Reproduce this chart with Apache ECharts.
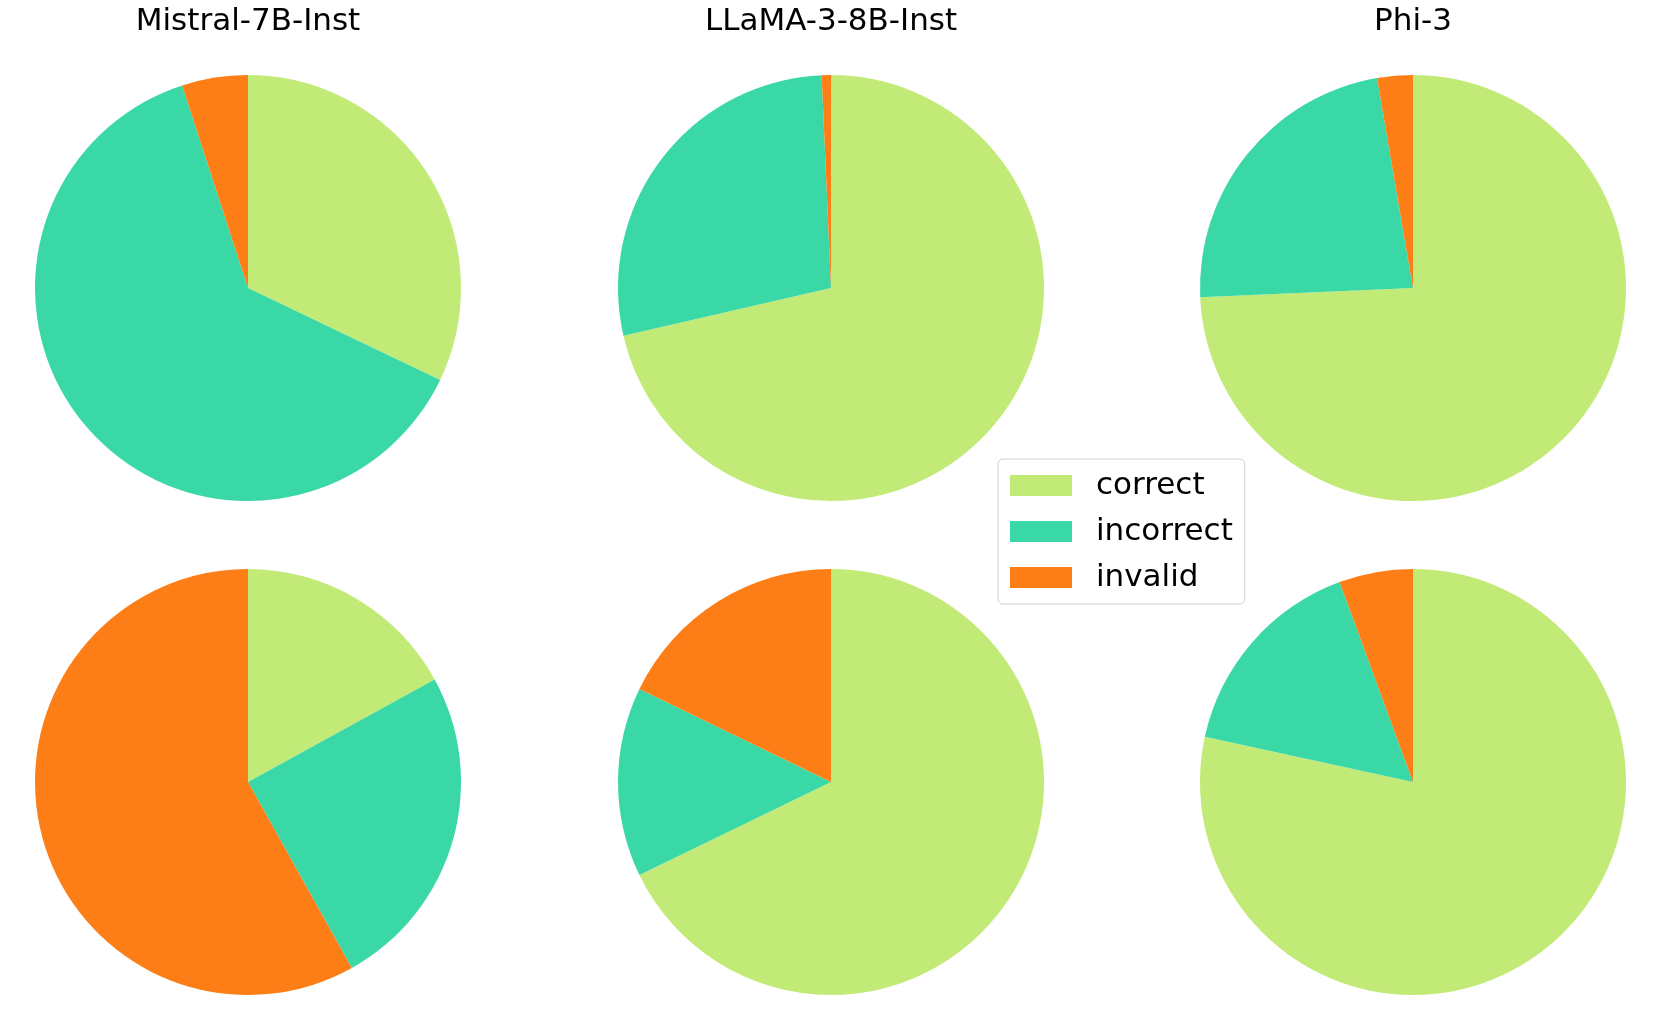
<!DOCTYPE html>
<html>
<head>
<meta charset="utf-8">
<script src="https://cdn.jsdelivr.net/npm/echarts@6/dist/echarts.min.js"></script>
<style>
html,body{margin:0;padding:0;background:#fff;}
#chart{width:1661px;height:1030px;}
</style>
</head>
<body>
<div id="chart"></div>
<script>
// ---- data ----
const models = ['Mistral-7B-Inst', 'LLaMA-3-8B-Inst', 'Phi-3'];
const categories = ['correct', 'incorrect', 'invalid'];
const mistralTop = [32.1, 62.9, 5.0];
const llamaTop = [71.4, 27.9, 0.7];
const phiTop = [74.3, 23.0, 2.7];
const mistralBottom = [17.0, 24.9, 58.1];
const llamaBottom = [67.8, 14.4, 17.8];
const phiBottom = [78.4, 16.0, 5.6];

// ---- layout / style ----
const colors = ['#c2ea76', '#3ad8a7', '#fd7e16'];
const colX = [248, 831, 1413];
const rowY = [288, 782];
const R = 213;
const font = 'DejaVu Sans';

const grid = [
  [mistralTop, llamaTop, phiTop],
  [mistralBottom, llamaBottom, phiBottom]
];

const series = [];
grid.forEach((row, r) => {
  row.forEach((vals, c) => {
    series.push({
      type: 'pie',
      center: [colX[c], rowY[r]],
      radius: R,
      startAngle: 90,
      clockwise: true,
      silent: true,
      label: { show: false },
      labelLine: { show: false },
      itemStyle: { borderWidth: 0 },
      emphasis: { disabled: true },
      data: categories.map((name, i) => ({ name, value: vals[i] }))
    });
  });
});

const titles = models.map((m, c) => ({
  text: m,
  left: colX[c],
  top: 6,
  textAlign: 'center',
  padding: 0,
  textStyle: { fontFamily: font, fontSize: 31, fontWeight: 'normal', color: '#000' }
}));

const chart = echarts.init(document.getElementById('chart'), null, { renderer: 'canvas' });
chart.setOption({
  animation: false,
  backgroundColor: '#fff',
  color: colors,
  title: titles,
  legend: {
    data: categories,
    orient: 'vertical',
    left: 998,
    top: 459,
    icon: 'rect',
    itemWidth: 62,
    itemHeight: 21,
    itemGap: 15,
    padding: [11, 12, 11, 12],
    borderColor: '#d0d0d0',
    borderWidth: 1,
    borderRadius: 5,
    selectedMode: false,
    textStyle: { fontFamily: font, fontSize: 31, color: '#000', lineHeight: 31, padding: [0, 0, 0, 19] }
  },
  series
});
</script>
</body>
</html>
